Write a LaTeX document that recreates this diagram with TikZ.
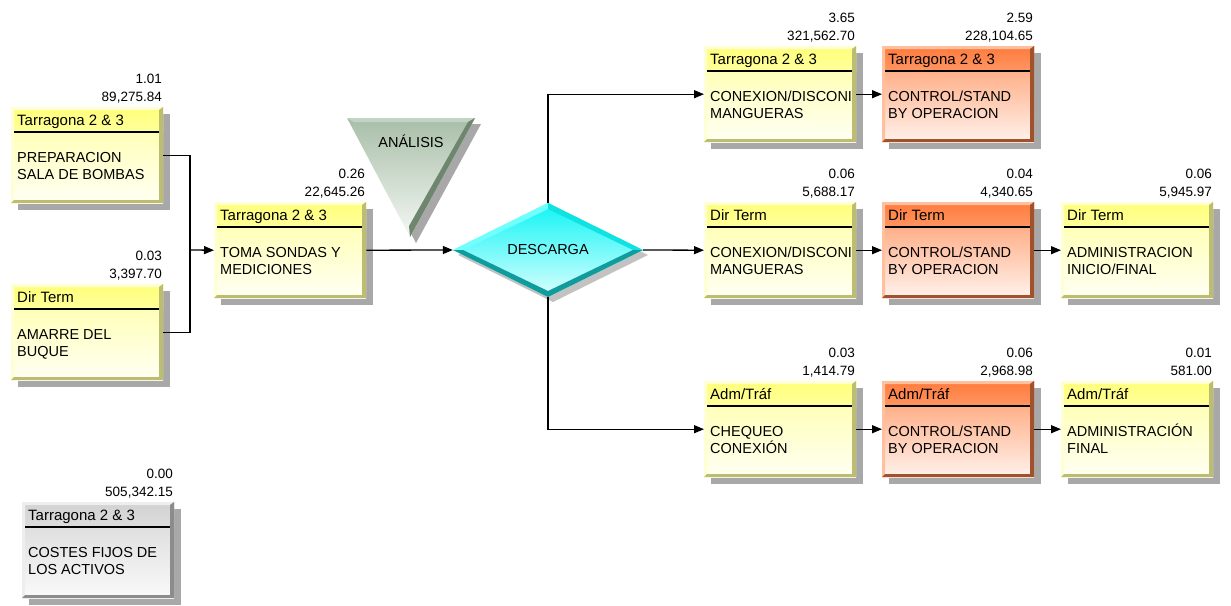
\documentclass[tikz,border=0pt]{standalone}
\usepackage{fontspec}
\setmainfont{Liberation Sans}
\usetikzlibrary{arrows.meta,shapes.geometric}
\definecolor{yhead1}{HTML}{FFFF78}
\definecolor{yhead2}{HTML}{FFFF9C}
\definecolor{ybody1}{HTML}{FFFFA4}
\definecolor{ybody2}{HTML}{FFFFF4}
\definecolor{ydark}{HTML}{BDBD72}
\definecolor{ylight}{HTML}{FFFFD4}
\definecolor{ohead1}{HTML}{FF7A3C}
\definecolor{ohead2}{HTML}{FF9662}
\definecolor{obody1}{HTML}{FF9866}
\definecolor{obody2}{HTML}{FFF2EC}
\definecolor{odark}{HTML}{A0522D}
\definecolor{olight}{HTML}{FFC0A0}
\definecolor{ghead1}{HTML}{D2D2D2}
\definecolor{ghead2}{HTML}{DCDCDC}
\definecolor{gbody1}{HTML}{D6D6D6}
\definecolor{gbody2}{HTML}{FAFAFA}
\definecolor{gdark}{HTML}{8C8C8C}
\definecolor{glight}{HTML}{EEEEEE}
\definecolor{shadowc}{HTML}{A8A8A8}
\definecolor{trtop}{HTML}{A8BEA8}
\definecolor{trbot}{HTML}{F4F8F4}
\definecolor{trdark}{HTML}{6E866E}
\definecolor{trlight}{HTML}{C4D4C4}
\definecolor{dtop}{HTML}{10F4F4}
\definecolor{dbot}{HTML}{DCFFFF}
\definecolor{ddark}{HTML}{109C9C}
\definecolor{dlight}{HTML}{70FFFF}
\tikzset{
  hdr/.style={anchor=base west, inner sep=0pt, font=\fontsize{15}{17}\selectfont},
  bodytxt/.style={anchor=base west, inner sep=0pt, font=\fontsize{14.5}{17}\selectfont},
  num/.style={anchor=base east, inner sep=0pt, font=\fontsize{13.5}{15}\selectfont},
  conn/.style={line width=1.3pt, black},
  arr/.style={line width=1.3pt, black, -{Triangle[length=10pt,width=8pt]}},
}
\newcommand\pbox[9]{%
\begin{scope}[shift={(#2,-#3)}]
 \fill[shadowc] (7,-7) rectangle (159,-103);
 \shade[top color=#4body1,bottom color=#4body2] (0,0) rectangle (152,-96);
 \shade[top color=#4head1,bottom color=#4head2] (0,0) rectangle (152,-25);
 \fill[#4light] (0,0) -- (152,0) -- (148,-3) -- (3,-3) -- (3,-93) -- (0,-96) -- cycle;
 \fill[#4dark] (152,0) -- (152,-96) -- (0,-96) -- (3,-93) -- (148,-93) -- (148,-3) -- cycle;
 \draw[line width=1.3pt] (3,-25) -- (148,-25);
 \node[hdr] (#1-h) at (6,-18) {#5};
 \node[bodytxt] (#1-a) at (6,-55) {#6};
 \node[bodytxt] (#1-b) at (6,-72) {#7};
 \node[num] (#1-n1) at (151,24) {#8};
 \node[num] (#1-n2) at (151,6) {#9};
 \node[inner sep=0pt, minimum width=152pt, minimum height=96pt, anchor=north west] (#1) at (0,0) {};
\end{scope}}
\begin{document}
\begin{tikzpicture}[x=1pt,y=1pt]
\useasboundingbox (0,0) rectangle (1231,-605);
\fill[white] (0,0) rectangle (1231,-605);

% boxes
\pbox{prep}{11}{107}{y}{Tarragona 2 \& 3}{PREPARACION}{SALA DE BOMBAS}{1.01}{89,275.84}
\pbox{amarre}{11}{284}{y}{Dir Term}{AMARRE DEL}{BUQUE}{0.03}{3,397.70}
\pbox{toma}{214}{202}{y}{Tarragona 2 \& 3}{TOMA SONDAS Y}{MEDICIONES}{0.26}{22,645.26}
\pbox{costes}{22}{502}{g}{Tarragona 2 \& 3}{COSTES FIJOS DE}{LOS ACTIVOS}{0.00}{505,342.15}
\pbox{c1}{704}{46}{y}{Tarragona 2 \& 3}{CONEXION/DISCONI}{MANGUERAS}{3.65}{321,562.70}
\pbox{o1}{882}{46}{o}{Tarragona 2 \& 3}{CONTROL/STAND}{BY OPERACION}{2.59}{228,104.65}
\pbox{c2}{704}{202}{y}{Dir Term}{CONEXION/DISCONI}{MANGUERAS}{0.06}{5,688.17}
\pbox{o2}{882}{202}{o}{Dir Term}{CONTROL/STAND}{BY OPERACION}{0.04}{4,340.65}
\pbox{a2}{1061}{202}{y}{Dir Term}{ADMINISTRACION}{INICIO/FINAL}{0.06}{5,945.97}
\pbox{c3}{704}{381}{y}{Adm/Tráf}{CHEQUEO}{CONEXIÓN}{0.03}{1,414.79}
\pbox{o3}{882}{381}{o}{Adm/Tráf}{CONTROL/STAND}{BY OPERACION}{0.06}{2,968.98}
\pbox{a3}{1061}{381}{y}{Adm/Tráf}{ADMINISTRACIÓN}{FINAL}{0.01}{581.00}

% triangle ANALISIS
\fill[shadowc] (353,-124) -- (481,-124) -- (416,-243) -- cycle;
\shade[top color=trtop,bottom color=trbot] (347,-118) -- (475,-118) -- (410,-237) -- cycle;
\fill[trlight] (347,-118) -- (475,-118) -- (468,-122) -- (354,-122) -- cycle;
\fill[trdark] (475,-118) -- (410,-237) -- (409,-226) -- (468,-122) -- cycle;
\node[inner sep=0pt, font=\fontsize{14.5}{17}\selectfont] (ana) at (411,-141) {ANÁLISIS};

% diamond DESCARGA
\fill[shadowc!70] (458,-255) -- (553,-208) -- (648,-255) -- (553,-302) -- cycle;
\shade[top color=dtop,bottom color=dbot] (453,-250) -- (548,-203) -- (643,-250) -- (548,-297) -- cycle;
\fill[dlight] (453,-250) -- (548,-203) -- (548,-209) -- (463,-250) -- cycle;
\fill[dtop!80!ddark] (548,-203) -- (643,-250) -- (633,-250) -- (548,-209) -- cycle;
\fill[ddark] (453,-250) -- (548,-297) -- (643,-250) -- (633,-250) -- (548,-291) -- (463,-250) -- cycle;
\node[diamond, inner sep=0pt, minimum width=190pt, minimum height=94pt, font=\fontsize{14.5}{17}\selectfont] (desc) at (548,-250) {DESCARGA};

% connectors
\coordinate (j) at (190,-250);
\draw[conn] (prep.east) -| (j) |- (amarre.east);
\draw[arr] (j) -- (toma.west);
\draw[arr] (toma.east) -- (desc.west);
\draw[arr] (desc.north) |- (c1.west);
\draw[arr] (desc.east) -- (c2.west);
\draw[arr] (desc.south) |- (c3.west);
\draw[arr] (c1.east) -- (o1.west);
\draw[arr] (c2.east) -- (o2.west);
\draw[arr] (o2.east) -- (a2.west);
\draw[arr] (c3.east) -- (o3.west);
\draw[arr] (o3.east) -- (a3.west);
\end{tikzpicture}
\end{document}
